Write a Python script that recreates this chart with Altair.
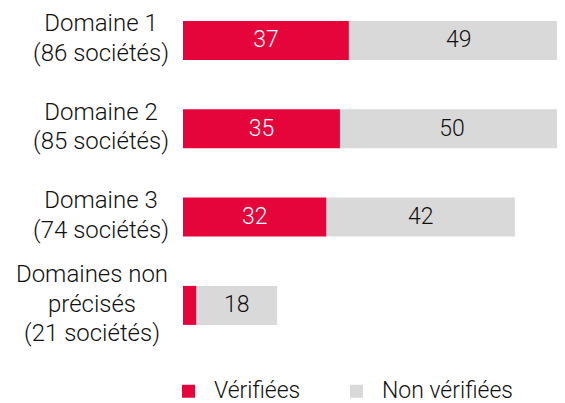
import altair as alt
import pandas as pd

categories = [
    "Domaine 1|(86 sociétés)",
    "Domaine 2|(85 sociétés)",
    "Domaine 3|(74 sociétés)",
    "Domaines non|précisés|(21 sociétés)",
]
verifiees = [37, 35, 32, 3]
non_verifiees = [49, 50, 42, 18]
series = ["Vérifiées", "Non vérifiées"]
colors = ["#E5053A", "#D9D9D9"]

rows = []
for c, v, n in zip(categories, verifiees, non_verifiees):
    rows.append({"cat": c, "serie": series[0], "value": v, "order": 0})
    rows.append({"cat": c, "serie": series[1], "value": n, "order": 1})
df = pd.DataFrame(rows)

FONT = "Roboto"
WEIGHT = 300

base = alt.Chart(df).transform_stack(
    stack="value", groupby=["cat"], as_=["x0", "x1"],
    sort=[alt.SortField("order", order="ascending")]
).transform_calculate(mid="(datum.x0 + datum.x1) / 2")

is3 = "indexof(datum.value, 'non') >= 0"

y_enc = alt.Y(
    "cat:N", sort=categories, title=None,
    scale=alt.Scale(paddingInner=0.5583, paddingOuter=0.1472),
    axis=alt.Axis(
        domain=False, ticks=False, labelAlign="center", labelBaseline="middle",
        labelExpr="split(datum.value, '|')", labelLineHeight=29.5,
        labelFont=FONT, labelFontSize=24, labelFontWeight=WEIGHT,
        labelColor="#111111", labelLimit=300,
        labelPadding={"condition": {"test": is3, "value": 91.5}, "value": 82.5},
        labelOffset={"condition": {"test": is3, "value": -30}, "value": -16},
    ),
)

xscale = alt.Scale(domain=[0, 83.4], nice=False, zero=True)

bars = base.mark_bar(clip=True).encode(
    y=y_enc,
    x=alt.X("x0:Q", scale=xscale, axis=None),
    x2="x1:Q",
    color=alt.Color(
        "serie:N",
        scale=alt.Scale(domain=series, range=colors),
        sort=series,
        legend=alt.Legend(
            title=None, orient="none", legendX=-6, legendY=371.5, direction="horizontal",
            padding=0,
            symbolType="square", symbolSize=169, symbolStrokeWidth=0,
            labelFont=FONT, labelFontSize=23, labelFontWeight=WEIGHT, labelColor="#111111",
            labelOffset=14, columnPadding=44,
        ),
    ),
)

texts = base.transform_filter("datum.value >= 5").mark_text(
    font=FONT, fontSize=23, fontWeight=WEIGHT, align="center", baseline="middle"
).encode(
    y=alt.Y("cat:N", sort=categories),
    x=alt.X("mid:Q", scale=xscale),
    text="value:Q",
    color=alt.Color("serie:N", scale=alt.Scale(domain=series, range=["#ffffff", "#111111"]), legend=None),
)

chart = alt.layer(bars, texts).resolve_scale(color="independent").properties(
    width=374, height=329.9,
    autosize=alt.AutoSizeParams(type="none"),
    padding={"left": 175, "top": 0, "right": 0, "bottom": 65},
).configure_view(stroke=None)

chart.save("out.html", embed_options={"renderer": "svg", "actions": False})
